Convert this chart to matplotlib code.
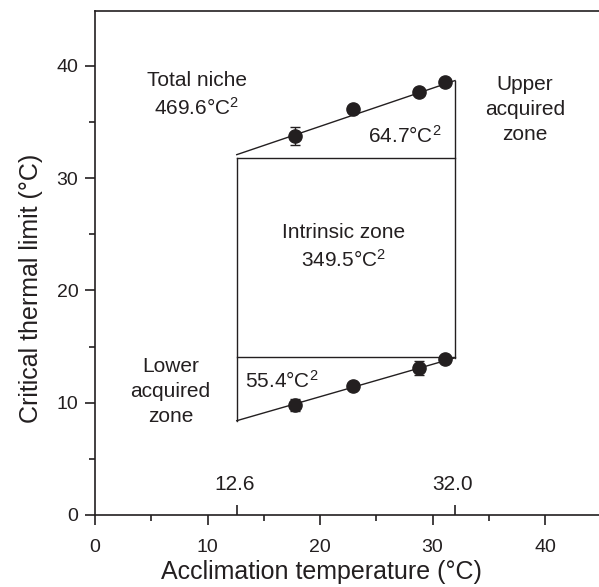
import numpy as np
import matplotlib
matplotlib.use("Agg")
import matplotlib.pyplot as plt

plt.rcParams['font.family'] = ['Liberation Sans', 'DejaVu Sans']
plt.rcParams['mathtext.fontset'] = 'custom'
plt.rcParams['mathtext.rm'] = 'Liberation Sans'
plt.rcParams['mathtext.default'] = 'regular'

ink = '#231f20'

# acclimation temperatures and measured limits
accl_temp = [17.8, 22.9, 28.8, 31.1]
ct_max = [33.75, 36.2, 37.7, 38.6]
ct_max_err = [0.8, 0.15, 0.3, 0.15]
ct_min = [9.8, 11.5, 13.1, 13.9]
ct_min_err = [0.5, 0.2, 0.6, 0.15]

# niche boundaries
t_low, t_high = 12.6, 32.0
max_line = [32.1, 38.7]   # CTmax regression at t_low, t_high
min_line = [8.4, 14.0]    # CTmin regression at t_low, t_high
intrinsic_top = 31.8
intrinsic_bottom = 14.1

fig = plt.figure(figsize=(5.99, 5.87), dpi=100)
ax = fig.add_axes([0.1586, 0.1227, 0.8414, 0.8586])

lw = 1.0
ax.plot([t_low, t_high], max_line, color=ink, lw=lw)
ax.plot([t_low, t_high], min_line, color=ink, lw=lw)
ax.plot([t_low, t_high], [intrinsic_top] * 2, color=ink, lw=lw)
ax.plot([t_low, t_high], [intrinsic_bottom] * 2, color=ink, lw=lw)
ax.plot([t_low, t_low], [min_line[0], intrinsic_top], color=ink, lw=lw)
ax.plot([t_high, t_high], [min_line[1], max_line[1]], color=ink, lw=lw)

ax.errorbar(accl_temp, ct_max, yerr=ct_max_err, fmt='o', color=ink,
            ms=9.5, capsize=3.5, elinewidth=1, capthick=1)
ax.errorbar(accl_temp, ct_min, yerr=ct_min_err, fmt='o', color=ink,
            ms=9.5, capsize=3.5, elinewidth=1, capthick=1)

fs = 15
ls = 1.4
ax.text(9.05, 37.4, 'Total niche\n469.6°C$^{2}$', ha='center', va='center',
        fontsize=fs, color=ink, linespacing=ls)
ax.text(38.2, 36.1, 'Upper\nacquired\nzone', ha='center', va='center',
        fontsize=fs, color=ink, linespacing=ls)
ax.text(27.5, 33.8, '64.7°C$^{2}$', ha='center', va='center',
        fontsize=fs, color=ink)
ax.text(22.1, 23.9, 'Intrinsic zone\n349.5°C$^{2}$', ha='center', va='center',
        fontsize=fs, color=ink, linespacing=ls)
ax.text(6.7, 11.0, 'Lower\nacquired\nzone', ha='center', va='center',
        fontsize=fs, color=ink, linespacing=ls)
ax.text(16.6, 11.95, '55.4°C$^{2}$', ha='center', va='center',
        fontsize=fs, color=ink)
for t in (t_low, t_high):
    ax.text(t - 0.2, 2.75, f'{t:.1f}', ha='center', va='center',
            fontsize=fs, color=ink)

ax.set_xlim(0, 44.8)
ax.set_ylim(0, 44.9)
ax.set_xticks([0, 10, 20, 30, 40])
ax.set_yticks([0, 10, 20, 30, 40])
ax.set_xticks([5, 15, 25, 35], minor=True)
ax.set_yticks([5, 15, 25, 35], minor=True)
ax.tick_params(which='major', length=7, width=1.2, color=ink,
               labelsize=14, labelcolor=ink)
ax.tick_params(axis='x', which='major', pad=10)
ax.tick_params(axis='y', which='major', pad=5)
ax.tick_params(which='minor', length=4, width=1.2, color=ink)
for s in ('left', 'bottom', 'top'):
    ax.spines[s].set_color(ink)
    ax.spines[s].set_linewidth(1.2)
ax.spines['right'].set_visible(False)

sec = ax.secondary_xaxis('bottom')
sec.set_xticks([t_low, t_high], labels=['', ''])
sec.tick_params(direction='in', length=7, width=1.2, color=ink)
sec.spines['bottom'].set_visible(False)

ax.set_xlabel('Acclimation temperature (°C)', fontsize=18, color=ink, labelpad=3)
ax.set_ylabel('Critical thermal limit (°C)', fontsize=18, color=ink, labelpad=10)
ax.xaxis.label.set_x(0.449)
ax.yaxis.label.set_y(0.45)

fig.savefig('out.png', dpi=100)
